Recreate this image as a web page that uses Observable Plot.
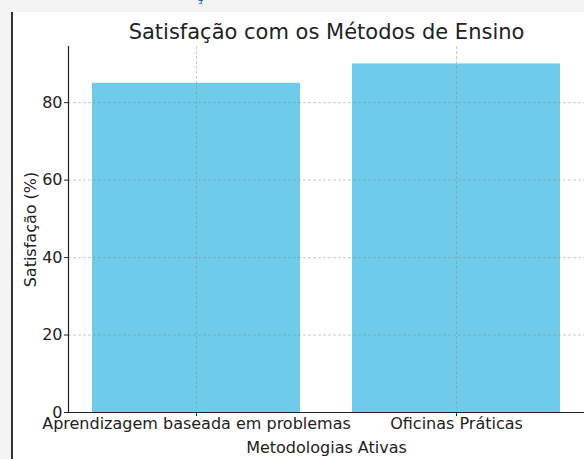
<!DOCTYPE html>
<html>
<head>
<meta charset="utf-8">
<script src="https://cdn.jsdelivr.net/npm/d3@7"></script>
<script src="https://cdn.jsdelivr.net/npm/@observablehq/plot@0.6"></script>
<style>
  html, body { margin: 0; padding: 0; }
  body { width: 584px; height: 459px; overflow: hidden; background: #f3f3f3; position: relative; font-family: "DejaVu Sans", sans-serif; }
  #edge { position: absolute; left: 11px; top: 12px; width: 2px; bottom: 0; background: #333; }
  #paper { position: absolute; left: 13px; top: 12px; right: 0; bottom: 0; background: #fff; }
  #frag { position: absolute; left: 196px; top: -11px; font-size: 14px; line-height: 14px; color: #1a5fd0; }
  #chart { position: absolute; left: 0; top: 0; }
</style>
</head>
<body>
<div id="paper"></div>
<div id="edge"></div>
<div id="frag">ç</div>
<div id="chart"></div>
<script>
const categories = ["Aprendizagem baseada em problemas", "Oficinas Práticas"];
const satisfaction = [85, 90];
const yTicks = [0, 20, 40, 60, 80];
const title = "Satisfação com os Métodos de Ensino";
const xLabel = "Metodologias Ativas";
const yLabel = "Satisfação (%)";

const data = categories.map((c, i) => ({method: c, value: satisfaction[i]}));
const ink = "#222";

const chart = Plot.plot({
  width: 584,
  height: 459,
  marginLeft: 68,
  marginRight: 0,
  marginTop: 46,
  marginBottom: 47,
  style: {background: "transparent", fontFamily: "DejaVu Sans, sans-serif", fontSize: "16px", color: ink},
  x: {type: "band", domain: categories, paddingInner: 0.2, paddingOuter: 0.09, label: null},
  y: {domain: [0, 94.5], label: null},
  marks: [
    Plot.barY(data, {x: "method", y: "value", fill: "#6fcbea"}),
    Plot.gridY(yTicks.filter(d => d > 0), {stroke: "#888", strokeOpacity: 0.55, strokeDasharray: "3,2", strokeWidth: 0.8}),
    Plot.gridX(categories, {stroke: "#888", strokeOpacity: 0.55, strokeDasharray: "3,2", strokeWidth: 0.8}),
    Plot.ruleY([0], {stroke: ink, strokeWidth: 1.2}),
    Plot.frame({anchor: "left", stroke: ink, strokeWidth: 1.2}),
    Plot.axisY(yTicks, {tickSize: 4, tickPadding: 2, fontSize: 16, stroke: ink, fill: ink, label: null}),
    Plot.axisX({tickSize: 4, tickPadding: 1, fontSize: 16, stroke: ink, fill: ink, label: null}),
    Plot.text([title], {frameAnchor: "top", dy: -14, fontSize: 21, fill: ink, textAnchor: "middle", lineAnchor: "middle"}),
    Plot.text([xLabel], {frameAnchor: "bottom", dy: 35, fontSize: 16, fill: ink, textAnchor: "middle", lineAnchor: "middle"}),
    Plot.text([yLabel], {frameAnchor: "left", dx: -38, rotate: -90, fontSize: 16, fill: ink, textAnchor: "middle", lineAnchor: "middle"})
  ]
});
document.getElementById("chart").appendChild(chart);
</script>
</body>
</html>
